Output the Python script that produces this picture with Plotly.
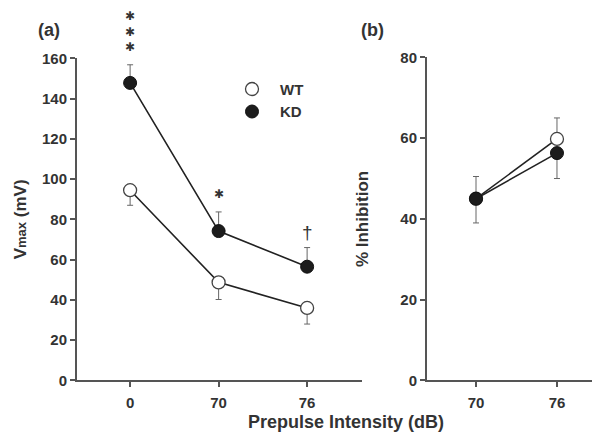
import plotly.graph_objects as go

# Panel (a): Vmax (mV)
cats_a = ["0", "70", "76"]
wt_a = [94.5, 48.7, 36.0]
wt_a_err = [7.5, 8.5, 8.0]      # downward
kd_a = [147.8, 74.2, 56.5]
kd_a_err = [9.0, 9.5, 9.5]      # upward

# Panel (b): % Inhibition
cats_b = ["70", "76"]
wt_b = [45.0, 59.8]
wt_b_err = [5.5, 5.2]           # upward
kd_b = [45.0, 56.3]
kd_b_err = [6.0, 6.3]           # downward

sig_a = ["✱<br>✱<br>✱", "✱", "†"]

LINE = "#222222"
AX = "#555555"
TXT = "#333333"
FONT = "Liberation Sans"

fig = go.Figure()

def add_pair(xa, ya, cats, wt, wte, kd, kde, wt_up, kd_up):
    fig.add_trace(go.Scatter(
        x=cats, y=wt, xaxis=xa, yaxis=ya,
        mode="lines+markers", showlegend=False,
        line=dict(color=LINE, width=1.6),
        marker=dict(symbol="circle", size=13, color="white", line=dict(color="#444", width=1.3)),
        error_y=dict(type="data", array=wte if wt_up else [0]*len(wte),
                     arrayminus=[0]*len(wte) if wt_up else wte, symmetric=False,
                     color="#666", thickness=1, width=3),
    ))
    fig.add_trace(go.Scatter(
        x=cats, y=kd, xaxis=xa, yaxis=ya,
        mode="lines+markers", showlegend=False,
        line=dict(color=LINE, width=1.6),
        marker=dict(symbol="circle", size=13, color="#1c1c1c", line=dict(color="#111", width=1)),
        error_y=dict(type="data", array=kde if kd_up else [0]*len(kde),
                     arrayminus=[0]*len(kde) if kd_up else kde, symmetric=False,
                     color="#666", thickness=1, width=3),
    ))

add_pair("x", "y", cats_a, wt_a, wt_a_err, kd_a, kd_a_err, False, True)
add_pair("x2", "y2", cats_b, wt_b, wt_b_err, kd_b, kd_b_err, True, False)

# legend-only traces
fig.add_trace(go.Scatter(x=[None], y=[None], mode="markers", name="WT",
                         marker=dict(size=13, color="white", line=dict(color="#444", width=1.3))))
fig.add_trace(go.Scatter(x=[None], y=[None], mode="markers", name="KD",
                         marker=dict(size=13, color="#1c1c1c", line=dict(color="#111", width=1))))

# significance marks (x given as category index)
for i, (v, e, s) in enumerate(zip(kd_a, kd_a_err, sig_a)):
    dag = (s == "†")
    fig.add_annotation(x=i, y=v + e, xref="x", yref="y", text=s, showarrow=False,
                       yanchor="bottom", yshift=9 if not dag else 3,
                       font=dict(family="DejaVu Sans" if not dag else FONT,
                                 size=12 if not dag else 19, color=TXT))

axis_common = dict(showline=True, linecolor=AX, linewidth=2, ticks="outside",
                   tickcolor=AX, ticklen=5, tickwidth=2, showgrid=False, zeroline=False,
                   tickfont=dict(family=FONT, size=15, color=TXT, weight="bold"))

fig.update_layout(
    width=600, height=441, margin=dict(l=0, r=0, t=0, b=0),
    plot_bgcolor="white", paper_bgcolor="white",
    xaxis=dict(domain=[69/600, 354/600], range=[-0.6, 2.62], type="category",
               ticklabelstandoff=3, **axis_common),
    yaxis=dict(domain=[63/441, 398/441], range=[0, 160], dtick=20, **axis_common,
               title=dict(text="V<span style='font-size:13px'>max</span> (mV)",
                          font=dict(family=FONT, size=17, color=TXT, weight="bold"), standoff=11)),
    xaxis2=dict(domain=[419/600, 1.0], range=[-0.605, 1.63], type="category", anchor="y2",
                ticklabelstandoff=3, **axis_common),
    yaxis2=dict(domain=[63/441, 399/441], range=[0, 80], dtick=20, anchor="x2", **axis_common,
                title=dict(text="% Inhibition", font=dict(family=FONT, size=17, color=TXT, weight="bold"),
                           standoff=27)),
    legend=dict(x=216/600, y=1-58/441, xanchor="left", yanchor="top", bgcolor="rgba(0,0,0,0)",
                font=dict(family=FONT, size=15, color=TXT, weight="bold"), itemwidth=46,
                tracegroupgap=0),
    font=dict(family=FONT, color=TXT),
)

fig.add_annotation(x=338/600, y=1-421/441, xref="paper", yref="paper", text="Prepulse Intensity (dB)",
                   yanchor="middle", showarrow=False,
                   font=dict(family=FONT, size=18, color=TXT, weight="bold"))
fig.add_annotation(x=41/600, y=1-14/441, xref="paper", yref="paper", text="(a)",
                   xanchor="center", yanchor="middle",
                   showarrow=False, font=dict(family=FONT, size=18, color=TXT, weight="bold"))
fig.add_annotation(x=364/600, y=1-14/441, xref="paper", yref="paper", text="(b)",
                   xanchor="center", yanchor="middle",
                   showarrow=False, font=dict(family=FONT, size=18, color=TXT, weight="bold"))

fig.write_html("out.html")
